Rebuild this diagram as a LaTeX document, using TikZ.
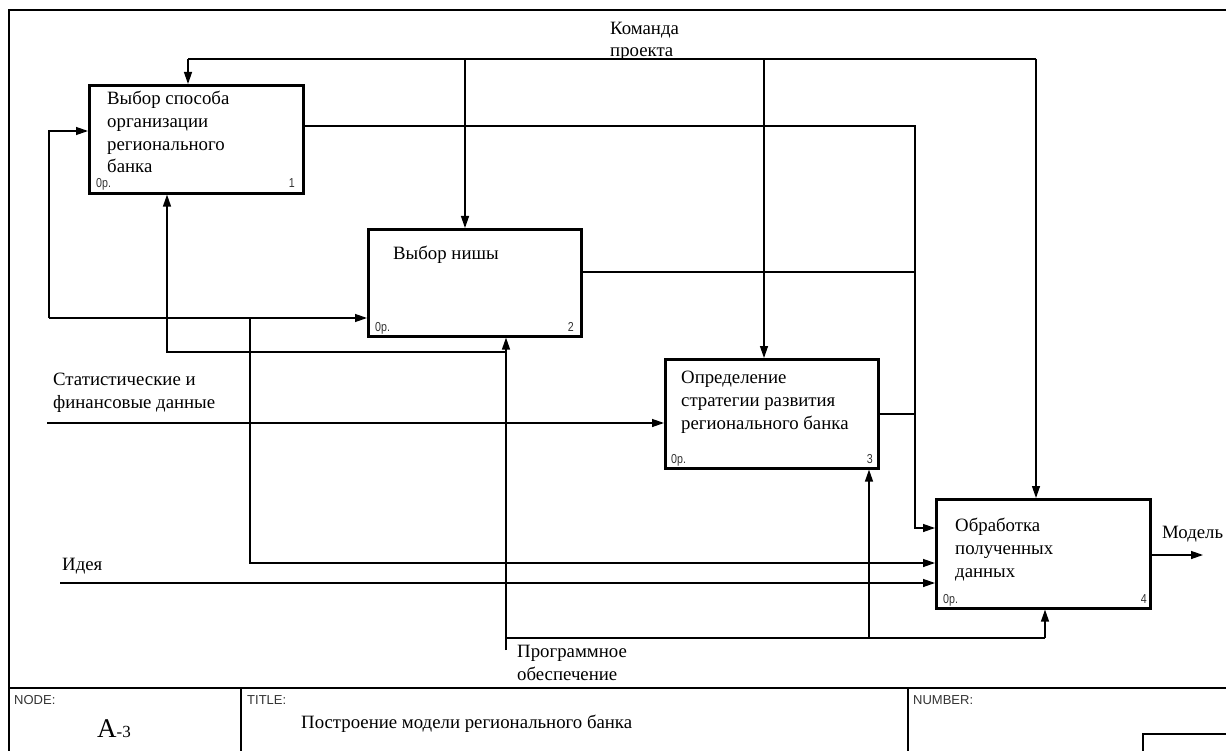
\documentclass[tikz,border=0pt]{standalone}
\usepackage{fontspec}
\setmainfont{Liberation Serif}
\newfontfamily\sansf{Liberation Sans}
\newfontfamily\sansn[FakeStretch=0.82]{Liberation Sans}
\usetikzlibrary{arrows.meta}
\begin{document}
\begin{tikzpicture}[x=1pt,y=-1pt,
  ln/.style={line width=1.3pt},
  arr/.style={ln,-{Triangle[length=12pt,width=8pt]}},
  box/.style={draw,line width=2.6pt,anchor=north west,inner sep=0},
  lbl/.style={font=\fontsize{18.8}{22.7}\selectfont,anchor=base west,align=left,inner sep=0},
  tiny/.style={font=\sansn\fontsize{13}{14}\selectfont,anchor=base west,inner sep=0,text=black!80},
  tinyr/.style={tiny,anchor=base east},
  hdr/.style={font=\sansf\fontsize{13}{14}\selectfont,anchor=base west,inner sep=0,text=black!80}
]
\useasboundingbox (0,0) rectangle (1226,751);
% frame
\draw[line width=1.5pt] (9,760) -- (9,10) -- (1240,10);
\draw[ln] (9,688) -- (1240,688);
\draw[ln] (241,688) -- (241,760);
\draw[ln] (908,688) -- (908,760);
\draw[ln] (1143,760) -- (1143,734) -- (1240,734);
\node[hdr] (hnode) at (14,704) {NODE:};
\node[hdr] (htitle) at (247,704) {TITLE:};
\node[hdr] (hnum) at (913,704) {NUMBER:};
\node[anchor=base west,inner sep=0] (nodeid) at (97,737) {\fontsize{27}{27}\selectfont A\fontsize{17}{17}\selectfont -3};
\node[lbl] (title) at (301,728) {Построение модели регионального банка};

% boxes
\node[box,minimum width=214pt,minimum height=108pt] (b1) at (88,84) {};
\node[box,minimum width=213pt,minimum height=107pt] (b2) at (367,228) {};
\node[box,minimum width=213pt,minimum height=109pt] (b3) at (664,358) {};
\node[box,minimum width=214pt,minimum height=109pt] (b4) at (935,498) {};

\node[lbl] (t1) at (107,173) {Выбор способа\\организации\\регионального\\банка};
\node[lbl] (t2) at (393,260) {Выбор нишы};
\node[lbl] (t3) at (681,429) {Определение\\стратегии развития\\регионального банка};
\node[lbl] (t4) at (955,577) {Обработка\\полученных\\данных};

\node[tiny] (p1) at (96,188) {0р.};  \node[tinyr] (n1) at (295,188) {1};
\node[tiny] (p2) at (375,331) {0р.}; \node[tinyr] (n2) at (574,331) {2};
\node[tiny] (p3) at (671,463) {0р.}; \node[tinyr] (n3) at (873,463) {3};
\node[tiny] (p4) at (943,603) {0р.}; \node[tinyr] (n4) at (1147,603) {4};

% arrow labels
\node[lbl] (lctl) at (610,57) {Команда\\проекта};
\node[lbl] (lstat) at (53,408) {Статистические и\\финансовые данные};
\node[lbl] (lidea) at (62,570) {Идея};
\node[lbl] (lmod) at (1162,538) {Модель};
\node[lbl] (lsoft) at (517,680) {Программное\\обеспечение};

% control
\coordinate (cL) at (188,59);
\coordinate (cR) at (1036,59);
\draw[ln] (cL) -- (cR);
\draw[arr] (cL) -- (cL |- b1.north);
\draw[arr] (465,59) -- (b2.north -| 465,0);
\draw[arr] (764,59) -- (b3.north -| 764,0);
\draw[arr] (cR) -- (cR |- b4.north);

% outputs to box 4
\draw[arr] (b1.east |- 0,126) -| (915,528) -- (b4.west |- 0,528);
\draw[ln] (b2.east |- 0,272) -- (915,272);
\draw[ln] (b3.east |- 0,414) -- (915,414);

% feedback inputs
\draw[arr] (49,318) -- (49,131) -- (b1.west |- 0,131);
\draw[arr] (49,318) -- (b2.west |- 0,318);
\draw[arr] (250,318) -- (250,563) -- (b4.west |- 0,563);

% external inputs
\draw[arr] (47,423) -- (b3.west |- 0,423);
\draw[arr] (60,583) -- (b4.west |- 0,583);
% output
\draw[arr] (b4.east |- 0,555) -- (1203,555);

% mechanism
\draw[arr] (506,650) -- (b2.south -| 506,0);
\draw[arr] (506,352) -- (167,352) -- (b1.south -| 167,0);
\draw[ln] (506,638) -- (1045,638);
\draw[arr] (1045,638) -- (b4.south -| 1045,0);
\draw[arr] (869,638) -- (b3.south -| 869,0);
\end{tikzpicture}
\end{document}
